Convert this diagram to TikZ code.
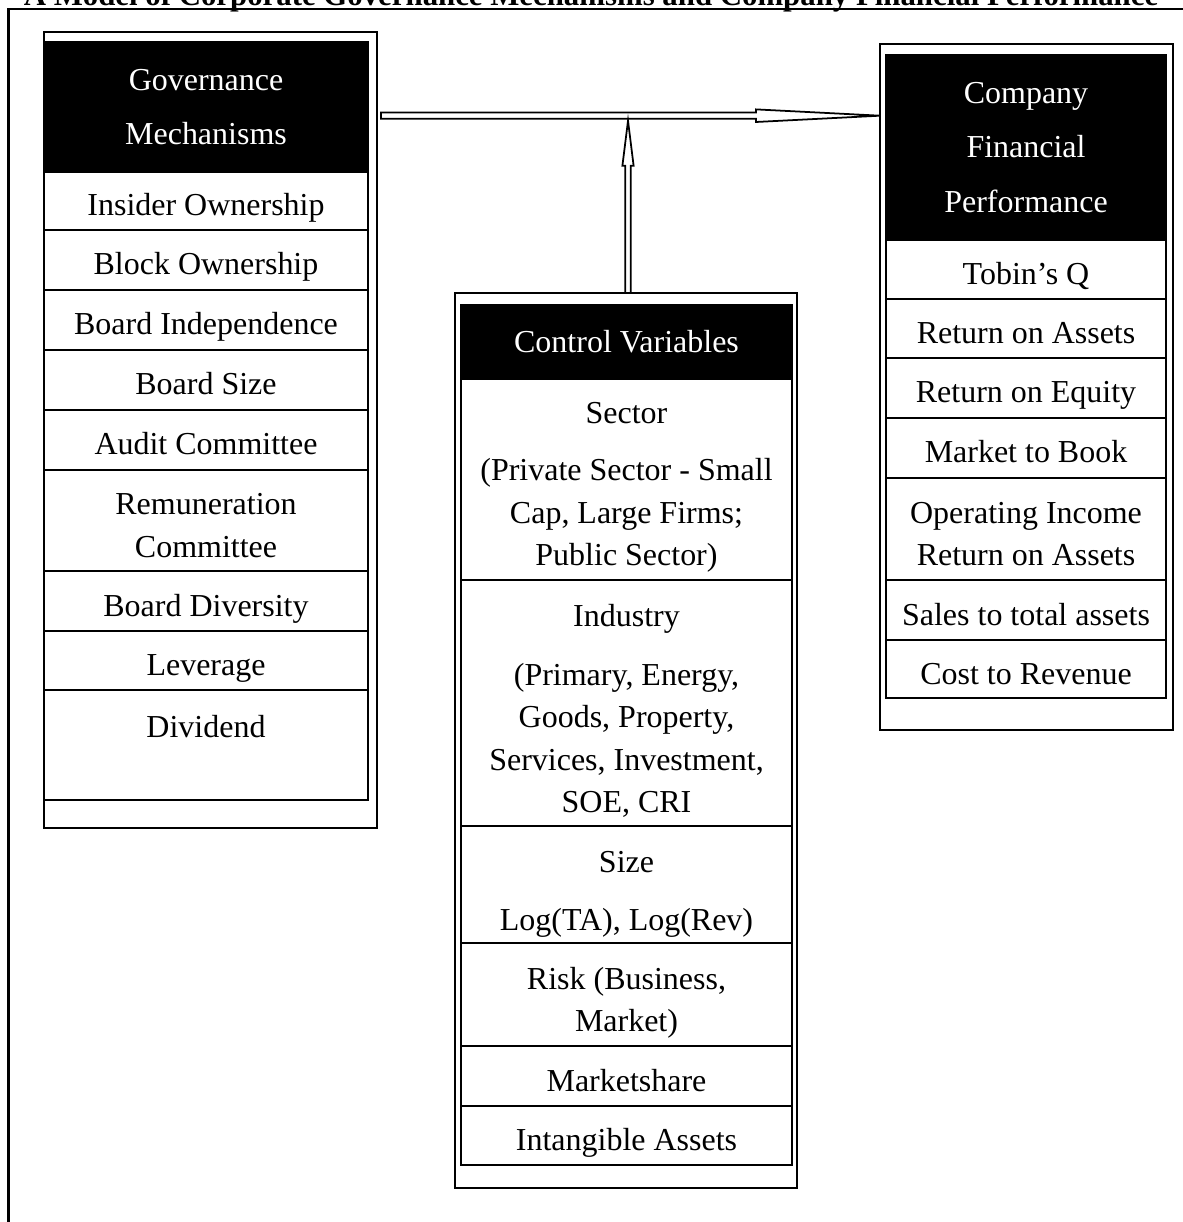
\documentclass[tikz,border=0pt]{standalone}
\usepackage{fontspec}
\setmainfont{Liberation Serif}
\usetikzlibrary{positioning,calc}
\newcommand{\rs}[1]{\rule{0pt}{#1}}
\begin{document}
\begin{tikzpicture}
\tikzset{frame/.style={draw, line width=0.55pt, inner sep=0pt, outer sep=0pt, anchor=north west},
cellbase/.style={draw, line width=0.6pt, inner sep=0pt, outer sep=0pt, font=\fontsize{9.1}{12.1}\selectfont},
row/.style={cellbase, minimum height=0.60cm, text height=0.30cm, text depth=0cm},
rowm/.style={cellbase, align=center},
head/.style={cellbase, fill=black, text=white, align=center, anchor=north west, font=\fontsize{9.1}{15.5}\selectfont},
arrowline/.style={draw, fill=white, line width=0.5pt}}
\useasboundingbox (0,0) rectangle (11.82,-12.22);
\node[font=\fontsize{8.77}{11}\selectfont\bfseries, anchor=base] (title) at (5.91,-0.06) {A Model of Corporate Governance Mechanisms and Company Financial Performance};
\draw[line width=0.7pt] (0.087,-12.5) -- (0.087,-0.088) -- (12.1,-0.088);
\node[frame, minimum width=3.33cm, minimum height=7.96cm] (govbox) at (0.44,-0.32) {};
\node[frame, minimum width=2.93cm, minimum height=6.86cm] (perfbox) at (8.80,-0.44) {};
\node[frame, minimum width=3.42cm, minimum height=8.95cm] (ctrlbox) at (4.55,-2.93) {};
\begin{scope}[every node/.append style={minimum width=3.24cm}]
\node[head, minimum height=1.30cm] (gh) at (0.44,-0.42) {Governance\\Mechanisms};
\node[row, below=0pt of gh, minimum height=0.58cm] (g1) {Insider Ownership};
\node[row, below=0pt of g1] (g2) {Block Ownership};
\node[row, below=0pt of g2] (g3) {Board Independence};
\node[row, below=0pt of g3] (g4) {Board Size};
\node[row, below=0pt of g4] (g5) {Audit Committee};
\node[rowm, below=0pt of g5, minimum height=1.01cm] (g6) {\rs{0.31cm}Remuneration\\Committee};
\node[row, below=0pt of g6] (g7) {Board Diversity};
\node[row, below=0pt of g7, minimum height=0.59cm] (g8) {Leverage};
\node[row, below=0pt of g8, minimum height=1.10cm, text depth=0.46cm] (g9) {Dividend};
\end{scope}
\begin{scope}[every node/.append style={minimum width=2.80cm}]
\node[head, minimum height=1.85cm] (ph) at (8.86,-0.55) {Company\\Financial\\Performance};
\node[row, below=0pt of ph, minimum height=0.59cm] (p1) {Tobin’s Q};
\node[row, below=0pt of p1, minimum height=0.59cm] (p2) {Return on Assets};
\node[row, below=0pt of p2] (p3) {Return on Equity};
\node[row, below=0pt of p3] (p4) {Market to Book};
\node[rowm, below=0pt of p4, minimum height=1.02cm] (p5) {\rs{0.31cm}Operating Income\\Return on Assets};
\node[row, below=0pt of p5] (p6) {Sales to total assets};
\node[row, below=0pt of p6, minimum height=0.58cm] (p7) {Cost to Revenue};
\end{scope}
\begin{scope}[every node/.append style={minimum width=3.31cm}]
\node[head, minimum height=0.74cm] (ch) at (4.61,-3.05) {Control Variables};
\node[rowm, below=0pt of ch, minimum height=2.01cm] (c1) {\rs{0.37cm}Sector\\[0.15cm](Private Sector - Small\\Cap, Large Firms;\\Public Sector)};
\node[rowm, below=0pt of c1, minimum height=2.46cm] (c2) {\rs{0.38cm}Industry\\[0.165cm](Primary, Energy,\\Goods, Property,\\Services, Investment,\\SOE, CRI};
\node[rowm, below=0pt of c2, minimum height=1.17cm] (c3) {\rs{0.40cm}Size\\[0.155cm]Log(TA), Log(Rev)};
\node[rowm, below=0pt of c3, minimum height=1.03cm] (c4) {\rs{0.39cm}Risk (Business,\\Market)};
\node[row, below=0pt of c4] (c5) {Marketshare};
\node[row, below=0pt of c5, minimum height=0.59cm] (c6) {Intangible Assets};
\end{scope}
\coordinate (ha) at ($(govbox.north east)+(0.04,-0.837)$);
\coordinate (hb) at (perfbox.west |- ha);
\draw[arrowline] ($(ha)+(0,0.031)$) -- ($(hb)+(-1.24,0.031)$) -- ($(hb)+(-1.24,0.063)$) -- (hb) -- ($(hb)+(-1.24,-0.063)$) -- ($(hb)+(-1.24,-0.031)$) -- ($(ha)+(0,-0.031)$) -- cycle;
\coordinate (va) at ($(ctrlbox.north)+(0.02,0)$);
\coordinate (vb) at ($(va |- ha)+(0,-0.05)$);
\draw[arrowline] ($(va)+(-0.027,0)$) -- ($(vb)+(-0.027,-0.45)$) -- ($(vb)+(-0.056,-0.45)$) -- (vb) -- ($(vb)+(0.056,-0.45)$) -- ($(vb)+(0.027,-0.45)$) -- ($(va)+(0.027,0)$) -- cycle;
\end{tikzpicture}
\end{document}
